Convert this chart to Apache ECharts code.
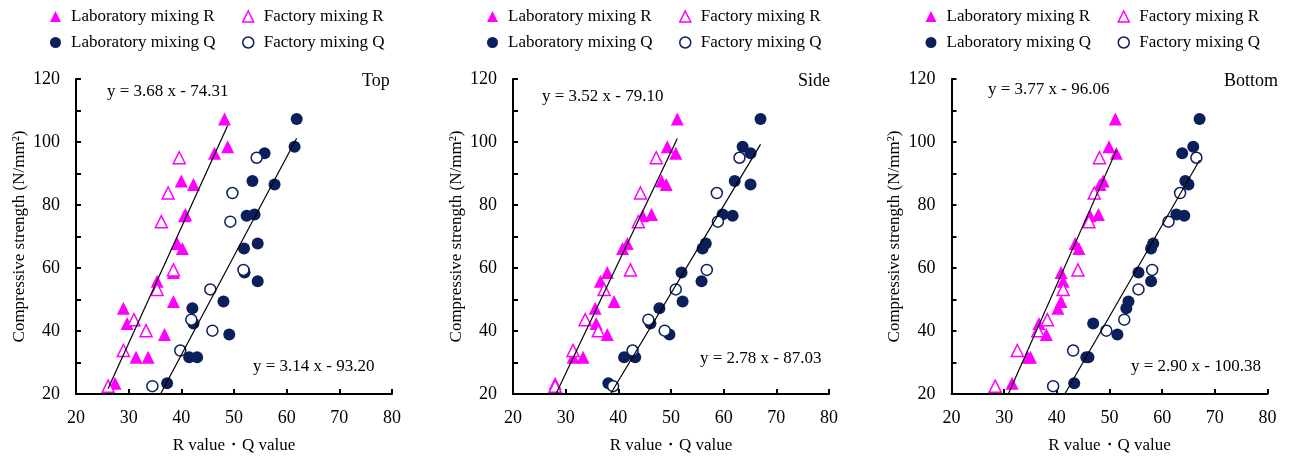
<!DOCTYPE html>
<html>
<head>
<meta charset="utf-8">
<script src="https://cdn.jsdelivr.net/npm/echarts@6/dist/echarts.min.js"></script>
<style>
html, body { margin: 0; padding: 0; background: #fff; }
#main { width: 1295px; height: 459px; }
</style>
</head>
<body>
<div id="main"></div>
<script>
// compressive strength (y) shared by the R and Q readings of each specimen
var strengthLab = [107.3, 98.5, 96.4, 87.6, 86.5, 77.0, 76.6, 67.8, 66.2, 58.6, 55.8, 49.4, 47.2, 42.4, 38.9, 31.7, 31.7, 23.4];
var strengthFactory = [95.0, 83.8, 74.7, 59.4, 53.2, 43.6, 40.1, 33.8, 22.5];

// Top
var topLabR = [48.2, 48.8, 46.3, 40.0, 42.3, 40.8, 40.6, 39.2, 40.2, 38.5, 35.4, 38.5, 29.0, 29.7, 36.8, 31.4, 33.7, 27.4];
var topLabQ = [61.9, 61.5, 55.8, 53.5, 57.7, 53.9, 52.4, 54.5, 51.9, 52.0, 54.5, 48.0, 42.1, 42.3, 49.1, 41.5, 43.0, 37.3];
var topFacR = [39.6, 37.5, 36.2, 38.5, 35.4, 31.0, 33.3, 29.0, 26.1];
var topFacQ = [54.3, 49.7, 49.3, 51.8, 45.5, 41.9, 45.9, 39.8, 34.5];
// Side
var sideLabR = [51.2, 49.3, 50.9, 48.2, 49.1, 46.3, 44.6, 41.7, 40.8, 37.9, 36.6, 39.2, 35.6, 35.8, 37.9, 31.4, 33.3, 28.0];
var sideLabQ = [67.0, 63.6, 65.1, 62.1, 65.1, 59.8, 61.7, 56.6, 56.0, 52.0, 55.8, 52.2, 47.8, 46.1, 49.7, 41.1, 43.2, 38.1];
var sideFacR = [47.2, 44.2, 43.8, 42.3, 37.3, 33.7, 36.2, 31.4, 28.0];
var sideFacQ = [63.0, 58.7, 58.9, 56.8, 50.9, 45.7, 48.8, 42.7, 39.0];
// Bottom
var bottomLabR = [51.1, 49.9, 51.3, 48.8, 48.2, 47.9, 46.3, 43.5, 44.2, 40.8, 41.2, 40.8, 40.2, 36.6, 38.0, 34.5, 35.0, 31.5];
var bottomLabQ = [67.1, 65.9, 63.8, 64.4, 65.0, 62.7, 64.2, 58.3, 57.9, 55.5, 57.9, 53.6, 53.2, 46.9, 51.5, 45.6, 46.0, 43.3];
var bottomFacR = [48.1, 47.1, 46.1, 44.0, 41.2, 38.2, 36.4, 32.5, 28.3];
var bottomFacQ = [66.5, 63.4, 61.2, 58.1, 55.5, 52.8, 49.4, 43.1, 39.3];

var panelNames = ['Top', 'Side', 'Bottom'];
var slopeR = [3.68, 3.52, 3.77];
var interceptR = [-74.31, -79.10, -96.06];
var slopeQ = [3.14, 2.78, 2.90];
var interceptQ = [-93.20, -87.03, -100.38];
var eqTextR = ['y = 3.68 x - 74.31', 'y = 3.52 x - 79.10', 'y = 3.77 x - 96.06'];
var eqTextQ = ['y = 3.14 x - 93.20', 'y = 2.78 x - 87.03', 'y = 2.90 x - 100.38'];

var seriesNames = ['Laboratory mixing R', 'Factory mixing R', 'Laboratory mixing Q', 'Factory mixing Q'];

var myChart = echarts.init(document.getElementById('main'));
var font = "'Liberation Serif','Times New Roman',serif";
var pink = '#ff00ff';
var navy = '#0a1f5c';

var panelLeft = [76, 513, 951.5];
var eqPosR = [[107, 83], [542, 88], [988, 81]];
var eqPosQ = [[253, 358], [700, 350], [1131, 358]];
var labelPos = [[362, 72], [798, 72], [1224, 72]];

function zip(xs, ys) {
    var out = [];
    for (var i = 0; i < xs.length; i++) out.push([xs[i], ys[i]]);
    return out;
}

// fitted line over data range, cut at the bottom of the axis
function fitLine(xs, a, b) {
    var lo = Math.min.apply(null, xs), hi = Math.max.apply(null, xs);
    lo = Math.max(lo, (20 - b) / a);
    return [[lo, a * lo + b], [hi, a * hi + b]];
}

var panels = [
    [topLabR, topFacR, topLabQ, topFacQ],
    [sideLabR, sideFacR, sideLabQ, sideFacQ],
    [bottomLabR, bottomFacR, bottomLabQ, bottomFacQ]
];

var grids = [], xAxes = [], yAxes = [], series = [], legends = [], graphics = [];

panels.forEach(function (p, i) {
    grids.push({ left: panelLeft[i], top: 79, width: 316, height: 316 });
    xAxes.push({
        gridIndex: i, type: 'value', min: 20, max: 80, interval: 10,
        name: 'R value・Q value', nameLocation: 'middle', nameGap: 43,
        nameTextStyle: { fontFamily: font, fontSize: 17, color: '#000' },
        axisLine: { show: true, onZero: false, lineStyle: { color: '#000', width: 2 } },
        axisTick: { show: true, inside: true, length: 5, lineStyle: { color: '#000', width: 2 } },
        axisLabel: { fontFamily: font, fontSize: 18, color: '#000', margin: 15, showMinLabel: true, showMaxLabel: true },
        splitLine: { show: false }
    });
    yAxes.push({
        gridIndex: i, type: 'value', min: 20, max: 120, interval: 10,
        name: 'Compressive strength (N/mm²)', nameLocation: 'middle', nameGap: 48,
        nameTextStyle: { fontFamily: font, fontSize: 17, color: '#000' },
        axisLine: { show: true, onZero: false, lineStyle: { color: '#000', width: 2 } },
        axisTick: { show: true, inside: true, length: 5, lineStyle: { color: '#000', width: 2 } },
        axisLabel: {
            fontFamily: font, fontSize: 18, color: '#000', margin: 16, showMinLabel: true, showMaxLabel: true,
            formatter: function (v) { return v % 20 === 0 ? v : ''; }
        },
        splitLine: { show: false }
    });

    var labY = [strengthLab, strengthFactory, strengthLab, strengthFactory];
    var styles = [
        { symbol: 'triangle', size: 13, item: { color: pink, opacity: 1 } },
        { symbol: 'triangle', size: 12, item: { color: '#fff', borderColor: pink, borderWidth: 1.5, opacity: 1 } },
        { symbol: 'circle', size: 12, item: { color: navy, opacity: 1 } },
        { symbol: 'circle', size: 11, item: { color: '#fff', borderColor: navy, borderWidth: 1.5, opacity: 1 } }
    ];
    for (var k = 0; k < 4; k++) {
        series.push({
            name: seriesNames[k], type: 'scatter', xAxisIndex: i, yAxisIndex: i,
            symbol: styles[k].symbol, symbolSize: styles[k].size, itemStyle: styles[k].item,
            data: zip(p[k], labY[k]), z: 2
        });
    }
    var allR = p[0].concat(p[1]);
    var allQ = p[2].concat(p[3]);
    series.push({
        name: 'fitR' + i, type: 'line', xAxisIndex: i, yAxisIndex: i, showSymbol: false, silent: true,
        lineStyle: { color: '#000', width: 1.2 }, data: fitLine(allR, slopeR[i], interceptR[i]), z: 5
    });
    series.push({
        name: 'fitQ' + i, type: 'line', xAxisIndex: i, yAxisIndex: i, showSymbol: false, silent: true,
        lineStyle: { color: '#000', width: 1.2 }, data: fitLine(allQ, slopeQ[i], interceptQ[i]), z: 5
    });

    // legend, one component per item so each sits where the original does
    var lx = panelLeft[i] - 26;
    var legendPos = [[lx, 8], [lx + 192, 8], [lx, 34], [lx + 192, 34]];
    for (var k2 = 0; k2 < 4; k2++) {
        legends.push({
            left: legendPos[k2][0], top: legendPos[k2][1], padding: 0,
            itemWidth: 11, itemHeight: 11,
            data: [{ name: seriesNames[k2], icon: styles[k2].symbol, itemStyle: styles[k2].item }],
            textStyle: { fontFamily: font, fontSize: 17, color: '#000', padding: [0, 0, 0, 5] },
            selectedMode: false
        });
    }

    graphics.push({ type: 'text', left: eqPosR[i][0], top: eqPosR[i][1], style: { text: eqTextR[i], font: '17px ' + font, fill: '#000' } });
    graphics.push({ type: 'text', left: eqPosQ[i][0], top: eqPosQ[i][1], style: { text: eqTextQ[i], font: '17px ' + font, fill: '#000' } });
    graphics.push({ type: 'text', left: labelPos[i][0], top: labelPos[i][1], style: { text: panelNames[i], font: '18px ' + font, fill: '#000' } });
});

var option = {
    backgroundColor: '#fff',
    animation: false,
    grid: grids,
    xAxis: xAxes,
    yAxis: yAxes,
    legend: legends,
    graphic: graphics,
    series: series
};
myChart.setOption(option);
</script>
</body>
</html>
